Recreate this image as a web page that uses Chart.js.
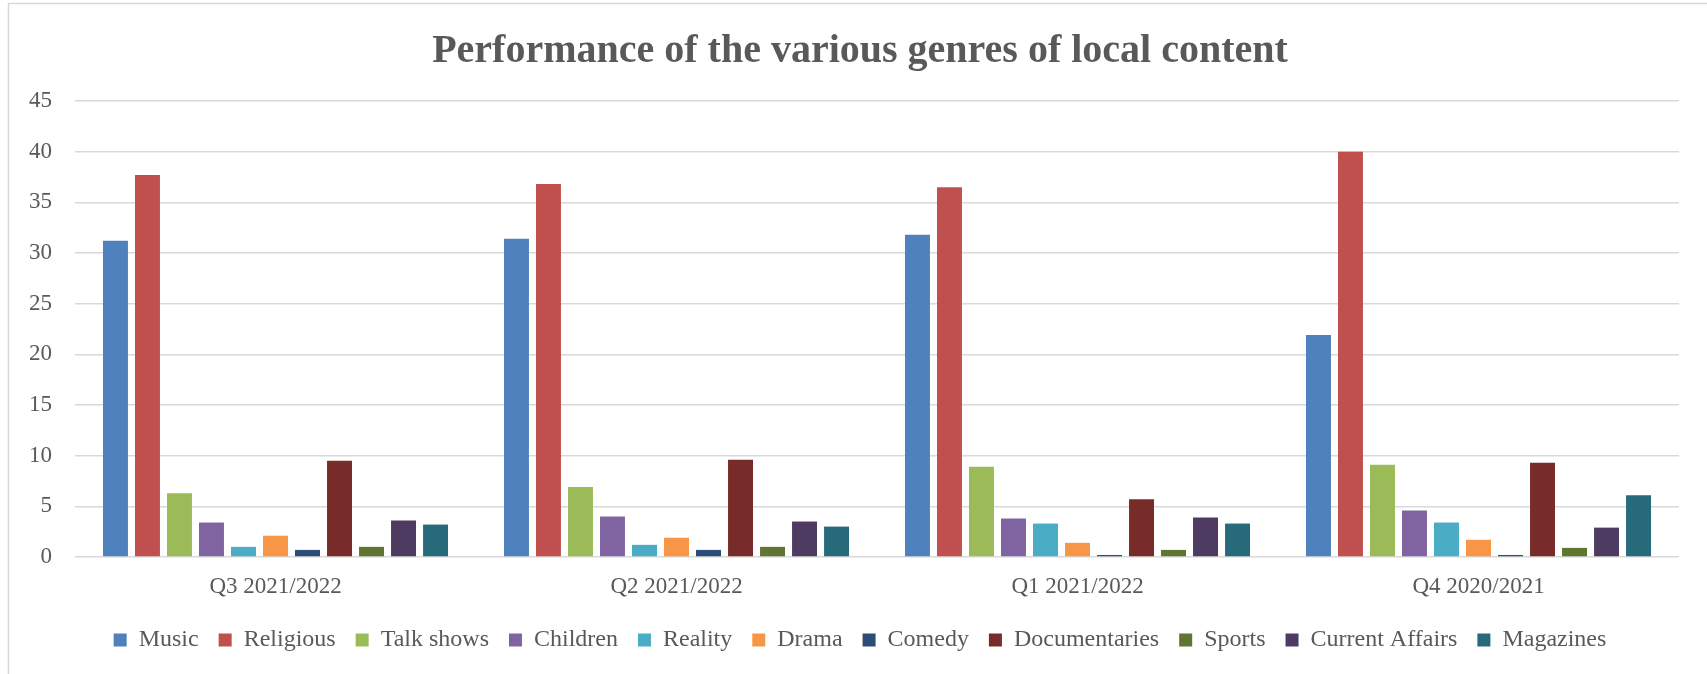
<!DOCTYPE html>
<html>
<head>
<meta charset="utf-8">
<script src="https://cdn.jsdelivr.net/npm/chart.js@4/dist/chart.umd.min.js"></script>
<style>
  html, body { margin: 0; padding: 0; background: #ffffff; }
  #wrap { position: relative; width: 1707px; height: 674px; }
</style>
</head>
<body>
<div id="wrap"><canvas id="c" width="1707" height="674"></canvas></div>
<script>
const categories = ["Q3 2021/2022", "Q2 2021/2022", "Q1 2021/2022", "Q4 2020/2021"];
const seriesNames = ["Music", "Religious", "Talk shows", "Children", "Reality", "Drama", "Comedy", "Documentaries", "Sports", "Current Affairs", "Magazines"];
const music          = [31.2, 31.4, 31.8, 21.9];
const religious      = [37.7, 36.8, 36.5, 40.0];
const talkShows      = [6.3, 6.9, 8.9, 9.1];
const children       = [3.4, 4.0, 3.8, 4.6];
const reality        = [1.0, 1.2, 3.3, 3.4];
const drama          = [2.1, 1.9, 1.4, 1.7];
const comedy         = [0.7, 0.7, 0.2, 0.2];
const documentaries  = [9.5, 9.6, 5.7, 9.3];
const sports         = [1.0, 1.0, 0.7, 0.9];
const currentAffairs = [3.6, 3.5, 3.9, 2.9];
const magazines      = [3.2, 3.0, 3.3, 6.1];
const yTicks = [0, 5, 10, 15, 20, 25, 30, 35, 40, 45];

const seriesValues = [music, religious, talkShows, children, reality, drama, comedy, documentaries, sports, currentAffairs, magazines];
const colors = ["#4F81BD", "#C0504D", "#9BBB59", "#8064A2", "#4BACC6", "#F79646", "#2C4D75", "#772C2A", "#5F7530", "#4D3B62", "#276A7C"];

const textColor = "#595959";
const fontFam = "'Liberation Serif', 'Times New Roman', serif";

const borderPlugin = {
  id: 'outerBorder',
  beforeDraw(chart) {
    const ctx = chart.ctx;
    ctx.save();
    ctx.fillStyle = '#ffffff';
    ctx.fillRect(0, 0, chart.width, chart.height);
    ctx.strokeStyle = '#d9d9d9';
    ctx.lineWidth = 1.5;
    ctx.strokeRect(8.5, 3.5, 2000, 2000);
    ctx.restore();
  }
};

new Chart(document.getElementById('c'), {
  type: 'bar',
  data: {
    labels: categories,
    datasets: seriesNames.map((name, i) => ({
      label: name,
      data: seriesValues[i],
      backgroundColor: colors[i],
      borderWidth: 0,
      categoryPercentage: 0.878,
      barPercentage: 0.78
    }))
  },
  options: {
    responsive: false,
    animation: false,
    layout: { padding: { left: 13, right: 0, top: 0, bottom: 12 } },
    plugins: {
      title: {
        display: true,
        text: "Performance of the various genres of local content",
        color: textColor,
        font: { family: fontFam, size: 40, weight: 'bold' },
        padding: { top: 28, bottom: 25 }
      },
      legend: {
        position: 'bottom',
        labels: {
          color: textColor,
          font: { family: fontFam, size: 24 },
          boxWidth: 13,
          boxHeight: 13,
          padding: 20
        }
      },
      tooltip: { enabled: false }
    },
    scales: {
      x: {
        grid: { display: false, drawTicks: false },
        border: { display: false },
        ticks: { color: textColor, font: { family: fontFam, size: 23 }, padding: 16 },
        afterFit(scale) { scale.height = 51; }
      },
      y: {
        min: 0,
        max: 45,
        afterBuildTicks(scale) { scale.ticks = yTicks.map(v => ({ value: v })); },
        grid: { color: '#d9d9d9', lineWidth: 1.5, drawTicks: false },
        border: { display: false },
        ticks: { color: textColor, font: { family: fontFam, size: 23 }, padding: 23 },
        afterFit(scale) { scale.width = 62; }
      },
      yRightSpace: {
        type: 'linear',
        position: 'right',
        display: true,
        grid: { display: false, drawTicks: false },
        border: { display: false },
        ticks: { display: false },
        afterFit(scale) { scale.width = 28; }
      }
    }
  },
  plugins: [borderPlugin]
});
</script>
</body>
</html>
